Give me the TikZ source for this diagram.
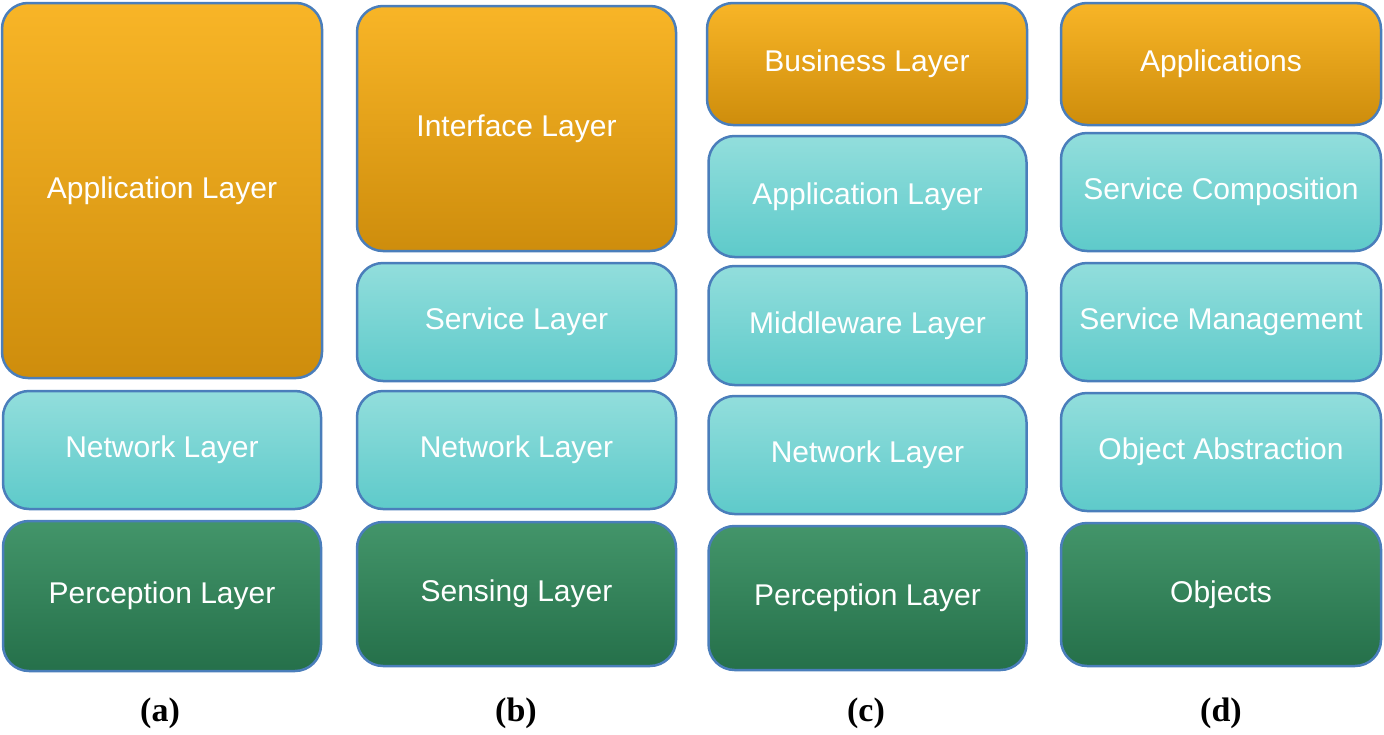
\documentclass[tikz,border=0pt]{standalone}
\usepackage{fontspec}
\setmainfont{Liberation Sans}
\newfontfamily\capfont{Liberation Serif}
\usepackage{xcolor}
\usepackage{tikz}
\usetikzlibrary{positioning}
\definecolor{lyorangetop}{RGB}{248,181,39}
\definecolor{lyorangebot}{RGB}{206,141,12}
\definecolor{lycyantop}{RGB}{146,222,220}
\definecolor{lycyanbot}{RGB}{94,202,202}
\definecolor{lygreentop}{RGB}{67,149,106}
\definecolor{lygreenbot}{RGB}{37,112,74}
\definecolor{lyedge}{RGB}{74,126,187}

\tikzset{
  layer/.style={draw=lyedge, line width=2.5pt, rounded corners=26pt,
    text=white, font=\fontsize{30}{36}\selectfont, align=center, inner sep=0pt},
  toplayer/.style={layer, top color=lyorangetop, bottom color=lyorangebot},
  midlayer/.style={layer, top color=lycyantop, bottom color=lycyanbot},
  lowlayer/.style={layer, top color=lygreentop, bottom color=lygreenbot},
  caption/.style={font=\capfont\bfseries\fontsize{34}{40}\selectfont}
}

\begin{document}
\begin{tikzpicture}[x=1pt, y=-1pt]
\useasboundingbox (0,0) rectangle (1384,734);

% (a) three layers
\node[toplayer, minimum width=320pt, minimum height=375pt] (a1) at (162,190.5) {Application Layer};
\node[midlayer, minimum width=318pt, minimum height=118pt] (a2) at (162,450) {Network Layer};
\node[lowlayer, minimum width=318pt, minimum height=150pt] (a3) at (162,596) {Perception Layer};

% (b) four layers
\node[toplayer, minimum width=319pt, minimum height=245pt] (b1) at (516.5,128.5) {Interface Layer};
\node[midlayer, minimum width=319pt, minimum height=118pt] (b2) at (516.5,322) {Service Layer};
\node[midlayer, minimum width=319pt, minimum height=118pt] (b3) at (516.5,450) {Network Layer};
\node[lowlayer, minimum width=319pt, minimum height=144pt] (b4) at (516.5,594) {Sensing Layer};

% (c) five layers
\node[toplayer, minimum width=320pt, minimum height=122pt] (c1) at (867,64) {Business Layer};
\node[midlayer, minimum width=318pt, minimum height=121pt] (c2) at (867.5,196.5) {Application Layer};
\node[midlayer, minimum width=318pt, minimum height=119pt] (c3) at (867.5,325.5) {Middleware Layer};
\node[midlayer, minimum width=318pt, minimum height=118pt] (c4) at (867.5,455) {Network Layer};
\node[lowlayer, minimum width=318pt, minimum height=144pt] (c5) at (867.5,598) {Perception Layer};

% (d) SOA based layers
\node[toplayer, minimum width=320pt, minimum height=122pt] (d1) at (1221,64) {Applications};
\node[midlayer, minimum width=320pt, minimum height=118pt] (d2) at (1221,192) {Service Composition};
\node[midlayer, minimum width=320pt, minimum height=118pt] (d3) at (1221,322) {Service Management};
\node[midlayer, minimum width=320pt, minimum height=118pt] (d4) at (1221,452) {Object Abstraction};
\node[lowlayer, minimum width=320pt, minimum height=143pt] (d5) at (1221,594.5) {Objects};

% captions
\node[caption] (capa) at (160,713) {(a)};
\node[caption] (capb) at (516,713) {(b)};
\node[caption] (capc) at (866,713) {(c)};
\node[caption] (capd) at (1221,713) {(d)};
\end{tikzpicture}
\end{document}
